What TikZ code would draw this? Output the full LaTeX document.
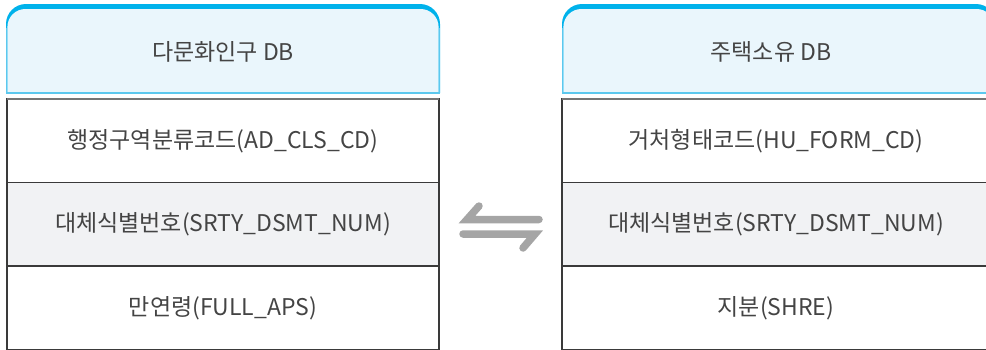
\documentclass[tikz,border=0pt]{standalone}
\usepackage{fontspec}
\newfontfamily\krfont{Noto Sans CJK KR}
\usetikzlibrary{positioning}

\definecolor{hdrfill}{HTML}{EAF6FC}
\definecolor{hdrline}{HTML}{5CC8EE}
\definecolor{hdrtop}{HTML}{00B2EB}
\definecolor{rowgray}{HTML}{F1F2F4}
\definecolor{rowline}{HTML}{3A3A3A}
\definecolor{txtgray}{HTML}{444444}
\definecolor{arrgray}{HTML}{A5A5A5}

\begin{document}
\begin{tikzpicture}[x=1pt, y=-1pt,
  cell/.style={draw=rowline, line width=1.4pt, minimum width=#1, minimum height=83.5pt,
    inner sep=0pt, outer sep=0pt, text=txtgray, font=\krfont\fontsize{23}{23}\selectfont},
  cell/.default=432pt,
  hdrtext/.style={text=txtgray, font=\krfont\fontsize{23}{23}\selectfont}]
  \useasboundingbox (0,0) rectangle (986,349);

  % headers
  \foreach \xa/\xb in {6/440, 562/996} {
    \fill[hdrtop] (\xa,93) [rounded corners=20pt] -- (\xa,4) -- (\xb,4) [sharp corners] -- (\xb,93) -- cycle;
    \fill[hdrfill] (\xa+1.4,92) [rounded corners=18pt] -- (\xa+1.4,9) -- (\xb-1.4,9) [sharp corners] -- (\xb-1.4,92) -- cycle;
    \draw[hdrline, line width=1.5pt] (\xa+0.7,28) -- (\xa+0.7,93) -- (\xb-0.7,93) -- (\xb-0.7,28);
  }
  \node[hdrtext] (dmHead) at (223,52) {다문화인구 DB};
  \node[hdrtext] (jtHead) at (771,52) {주택소유 DB};

  % left table
  \node[cell, anchor=north west] (dmCode) at (7,99) {행정구역분류코드(AD\_CLS\_CD)};
  \node[cell, fill=rowgray] (dmKey) [below=0pt of dmCode] {대체식별번호(SRTY\_DSMT\_NUM)};
  \node[cell] (dmAge) [below=0pt of dmKey] {만연령(FULL\_APS)};
  \draw[rowline!70, line width=2pt] (dmCode.north west) -- (dmCode.north east);

  % right table
  \node[cell=428pt, anchor=north west] (jtForm) at (562,99) {거처형태코드(HU\_FORM\_CD)};
  \node[cell=428pt, fill=rowgray] (jtKey) [below=0pt of jtForm] {대체식별번호(SRTY\_DSMT\_NUM)};
  \node[cell=428pt] (jtShare) [below=0pt of jtKey] {지분(SHRE)};
  \draw[rowline!70, line width=2pt] (jtForm.north west) -- (jtForm.north east);

  % link symbol
  \draw[arrgray, line width=7.5pt, line cap=round, line join=miter] (479,206) -- (467,219.5) -- (539,219.5);
  \draw[arrgray, line width=7.5pt, line cap=round, line join=miter] (463,234) -- (535,234) -- (523,248);
\end{tikzpicture}
\end{document}
